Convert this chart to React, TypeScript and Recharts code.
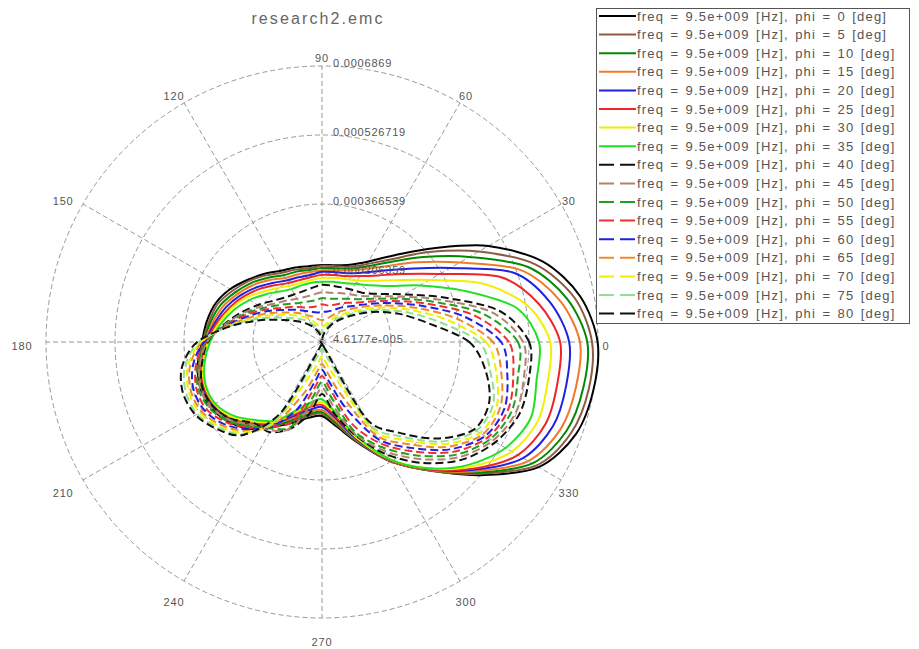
import React from 'react';
import { RadarChart, Radar, PolarGrid, PolarAngleAxis, PolarRadiusAxis } from 'recharts';

// angles (deg) at which each pattern is sampled
const ANGLES = [0, 10, 20, 30, 40, 50, 60, 70, 80, 90, 100, 110, 120, 130, 140, 150, 160, 170, 180, 190, 200, 210, 220, 230, 240, 250, 260, 270, 280, 290, 300, 310, 320, 330, 340, 350];
const PHI = [0, 5, 10, 15, 20, 25, 30, 35, 40, 45, 50, 55, 60, 65, 70, 75, 80];
const FREQ_LABEL = '9.5e+009';

// values in units of 1e-4
const UNIT = 1e-4;
const S0 = [6.86, 6.55, 5.92, 4.92, 3.85, 3.09, 2.62, 2.37, 2.27, 2.25, 2.25, 2.30, 2.37, 2.53, 2.71, 2.92, 3.09, 3.18, 3.25, 3.39, 3.48, 3.46, 3.32, 3.09, 2.74, 2.46, 2.25, 2.18, 2.46, 2.97, 3.67, 4.36, 5.27, 6.27, 6.73, 6.86];
const S1 = [6.73, 6.41, 5.73, 4.66, 3.71, 2.97, 2.55, 2.32, 2.25, 2.23, 2.20, 2.25, 2.32, 2.48, 2.67, 2.85, 3.04, 3.13, 3.23, 3.36, 3.46, 3.43, 3.29, 3.06, 2.71, 2.41, 2.20, 2.13, 2.41, 2.95, 3.67, 4.36, 5.22, 6.20, 6.62, 6.75];
const S2 = [6.62, 6.24, 5.55, 4.41, 3.53, 2.88, 2.48, 2.27, 2.20, 2.18, 2.16, 2.20, 2.25, 2.41, 2.60, 2.78, 2.97, 3.09, 3.20, 3.34, 3.46, 3.43, 3.27, 3.02, 2.69, 2.37, 2.16, 2.09, 2.37, 2.92, 3.64, 4.34, 5.18, 6.10, 6.50, 6.62];
const S3 = [6.45, 6.06, 5.36, 4.15, 3.34, 2.76, 2.41, 2.23, 2.16, 2.13, 2.11, 2.13, 2.18, 2.34, 2.53, 2.71, 2.90, 3.04, 3.18, 3.32, 3.43, 3.41, 3.25, 2.99, 2.67, 2.32, 2.11, 2.04, 2.32, 2.90, 3.64, 4.34, 5.13, 5.99, 6.36, 6.45];
const S4 = [6.20, 5.83, 5.18, 3.90, 3.11, 2.62, 2.32, 2.16, 2.11, 2.09, 2.04, 2.06, 2.11, 2.25, 2.44, 2.64, 2.83, 2.99, 3.16, 3.29, 3.41, 3.39, 3.23, 2.95, 2.64, 2.27, 2.06, 1.97, 2.25, 2.88, 3.62, 4.32, 5.08, 5.85, 6.17, 6.22];
const S5 = [5.99, 5.57, 4.87, 3.62, 2.92, 2.48, 2.23, 2.09, 2.04, 2.02, 1.99, 1.99, 2.04, 2.18, 2.37, 2.57, 2.76, 2.95, 3.13, 3.29, 3.39, 3.36, 3.20, 2.92, 2.62, 2.23, 1.99, 1.92, 2.20, 2.85, 3.62, 4.32, 5.04, 5.71, 5.99, 6.01];
const S6 = [5.76, 5.31, 4.43, 3.34, 2.69, 2.32, 2.11, 2.02, 1.97, 1.95, 1.92, 1.92, 1.97, 2.09, 2.27, 2.51, 2.71, 2.90, 3.11, 3.27, 3.36, 3.34, 3.18, 2.88, 2.60, 2.18, 1.95, 1.86, 2.13, 2.83, 3.60, 4.29, 4.97, 5.55, 5.80, 5.78];
const S7 = [5.50, 5.04, 3.95, 3.09, 2.48, 2.18, 2.02, 1.92, 1.88, 1.86, 1.86, 1.86, 1.88, 1.99, 2.18, 2.41, 2.64, 2.85, 3.06, 3.23, 3.34, 3.32, 3.13, 2.83, 2.57, 2.13, 1.88, 1.79, 2.09, 2.78, 3.60, 4.29, 4.90, 5.38, 5.62, 5.52];
const S8 = [5.27, 4.64, 3.48, 2.67, 2.20, 1.95, 1.86, 1.81, 1.79, 1.79, 1.74, 1.72, 1.74, 1.81, 1.95, 2.18, 2.46, 2.78, 3.11, 3.29, 3.43, 3.41, 3.23, 2.92, 2.88, 2.60, 2.16, 1.67, 2.16, 2.78, 3.48, 4.13, 4.71, 5.11, 5.34, 5.34];
const S9 = [5.13, 4.46, 3.34, 2.57, 2.11, 1.86, 1.74, 1.67, 1.62, 1.62, 1.58, 1.58, 1.62, 1.72, 1.86, 2.11, 2.41, 2.76, 3.13, 3.34, 3.48, 3.46, 3.27, 2.97, 2.83, 2.60, 1.97, 1.53, 1.97, 2.74, 3.39, 4.01, 4.62, 5.04, 5.25, 5.22];
const S10 = [5.01, 4.25, 3.20, 2.48, 2.02, 1.76, 1.62, 1.53, 1.48, 1.48, 1.44, 1.46, 1.51, 1.62, 1.79, 2.04, 2.37, 2.74, 3.16, 3.39, 3.53, 3.50, 3.32, 3.02, 2.78, 2.55, 1.79, 1.39, 1.79, 2.67, 3.29, 3.90, 4.53, 4.97, 5.15, 5.08];
const S11 = [4.80, 4.04, 3.06, 2.37, 1.92, 1.65, 1.51, 1.39, 1.32, 1.34, 1.30, 1.32, 1.39, 1.53, 1.69, 1.97, 2.32, 2.71, 3.18, 3.43, 3.57, 3.57, 3.36, 3.06, 2.74, 2.41, 1.58, 1.25, 1.58, 2.48, 3.18, 3.78, 4.43, 4.90, 5.06, 4.97];
const S12 = [4.62, 3.83, 2.92, 2.27, 1.83, 1.55, 1.39, 1.25, 1.18, 1.16, 1.16, 1.21, 1.30, 1.44, 1.62, 1.90, 2.25, 2.69, 3.20, 3.50, 3.64, 3.62, 3.43, 3.11, 2.69, 2.11, 1.39, 1.11, 1.39, 2.11, 3.06, 3.67, 4.34, 4.83, 4.97, 4.83];
const S13 = [4.43, 3.62, 2.78, 2.16, 1.74, 1.46, 1.27, 1.11, 1.00, 0.97, 1.00, 1.09, 1.18, 1.34, 1.53, 1.81, 2.18, 2.67, 3.25, 3.57, 3.71, 3.69, 3.48, 3.16, 2.64, 1.76, 1.18, 0.97, 1.18, 1.76, 2.95, 3.55, 4.25, 4.76, 4.87, 4.69];
const S14 = [4.27, 3.41, 2.64, 2.06, 1.62, 1.34, 1.16, 0.97, 0.86, 0.83, 0.83, 0.95, 1.09, 1.25, 1.44, 1.72, 2.11, 2.64, 3.27, 3.62, 3.76, 3.74, 3.53, 3.20, 2.57, 1.30, 0.93, 0.79, 0.93, 1.30, 2.81, 3.43, 4.15, 4.69, 4.78, 4.57];
const S15 = [4.11, 3.20, 2.51, 1.95, 1.53, 1.25, 1.04, 0.86, 0.72, 0.67, 0.69, 0.83, 0.97, 1.14, 1.32, 1.60, 2.04, 2.62, 3.32, 3.69, 3.83, 3.81, 3.57, 3.25, 2.48, 0.88, 0.69, 0.62, 0.69, 0.88, 2.67, 3.32, 4.06, 4.59, 4.69, 4.43];
const S16 = [3.88, 2.97, 2.37, 1.86, 1.44, 1.16, 0.95, 0.76, 0.62, 0.53, 0.60, 0.72, 0.86, 1.02, 1.21, 1.48, 1.95, 2.60, 3.36, 3.76, 3.90, 3.85, 3.62, 3.27, 2.32, 0.58, 0.53, 0.51, 0.53, 0.58, 2.51, 3.20, 3.95, 4.53, 4.59, 4.32];

const SERIES_VALUES = [S0, S1, S2, S3, S4, S5, S6, S7, S8, S9, S10, S11, S12, S13, S14, S15, S16];
const COLORS = ['#000000', '#8f5a45', '#008a00', '#f07a2a', '#2020e0', '#f02424', '#f0f000', '#22e022', '#111111', '#b08470', '#20a020', '#f03030', '#2020e0', '#f08a2a', '#f0f000', '#90e090', '#111111'];

const ANGLE_TICKS = [0, 30, 60, 90, 120, 150, 180, 210, 240, 270, 300, 330];
const RMIN = 4.6177e-5;
const RMAX = 6.869e-4;
const RADIUS_TICKS = [4.6177e-5, 2.06359e-4, 3.66539e-4, 5.26719e-4, 6.869e-4];
const RADIUS_LABELS = ['4.6177e-005', '0.000206359', '0.000366539', '0.000526719', '0.0006869'];
const TITLE = 'research2.emc';

// the radial axis starts at RMIN (the centre of the plot), so values are measured from it
const table = ANGLES.map((a, i) => {
  const row: Record<string, number> = { angle: a };
  SERIES_VALUES.forEach((s, k) => {
    row['s' + k] = s[i] * UNIT - RMIN;
  });
  return row;
});
const RADIUS_TICKS_SHIFTED = RADIUS_TICKS.map((t) => t - RMIN);

const FONT = '"Liberation Sans", Arial, sans-serif';
const TEXT = '#555555';

function smoothPath(pts: { x: number; y: number }[]) {
  const n = pts.length;
  const t = 0.15;
  let d = `M${pts[0].x},${pts[0].y}`;
  for (let i = 0; i < n; i++) {
    const p0 = pts[(i - 1 + n) % n];
    const p1 = pts[i];
    const p2 = pts[(i + 1) % n];
    const p3 = pts[(i + 2) % n];
    const c1x = p1.x + (p2.x - p0.x) * t;
    const c1y = p1.y + (p2.y - p0.y) * t;
    const c2x = p2.x - (p3.x - p1.x) * t;
    const c2y = p2.y - (p3.y - p1.y) * t;
    d += ` C${c1x},${c1y} ${c2x},${c2y} ${p2.x},${p2.y}`;
  }
  return d + 'Z';
}

function SmoothShape({ points, color, dash }: any) {
  if (!points || points.length < 3) return null;
  return (
    <path d={smoothPath(points)} fill="none" stroke={color} strokeWidth={2} strokeDasharray={dash} />
  );
}

const AngleTick = (props: any) => {
  const { x, y, payload } = props;
  const a = (payload.value * Math.PI) / 180;
  const c = Math.cos(a);
  const s = Math.sin(a);
  const X = x + 8 * c - 8 * c * c;
  const Y = y - 8 * s + 4 + 3.5 * s * s;
  return (
    <text x={X} y={Y} textAnchor="middle" dominantBaseline="central" fontSize={11} fill={TEXT} fontFamily={FONT} letterSpacing={0.8}>
      {payload.value}
    </text>
  );
};

const RadiusTick = (props: any) => {
  const { x, y, payload } = props;
  let idx = RADIUS_TICKS_SHIFTED.findIndex((v) => Math.abs(v - payload.value) < 1e-9);
  if (idx < 0) idx = props.index;
  return (
    <text x={x + 11} y={y + 1} fontSize={11} fill={TEXT} fontFamily={FONT} letterSpacing={0.8}>
      {RADIUS_LABELS[idx]}
    </text>
  );
};

export default function App() {
  const rowH = 18.6;
  return (
    <div style={{ position: 'relative', width: 903, height: 641, fontFamily: FONT }}>
      <RadarChart
        width={903}
        height={641}
        data={table}
        cx={314}
        cy={334}
        innerRadius={0}
        outerRadius={276}
        startAngle={0}
        endAngle={360}
        margin={{ top: 0, right: 0, bottom: 0, left: 0 }}
      >
        <PolarGrid gridType="circle" stroke="#999" strokeDasharray="5 3" polarAngles={ANGLE_TICKS} />
        <PolarAngleAxis
          dataKey="angle"
          type="number"
          domain={[0, 360]}
          ticks={ANGLE_TICKS}
          tick={AngleTick}
          tickLine={false}
          axisLine={false}
          tickSize={8}
        />
        <PolarRadiusAxis
          angle={90}
          type="number"
          domain={[0, RMAX - RMIN]}
          ticks={RADIUS_TICKS_SHIFTED}
          tick={RadiusTick}
          axisLine={false}
          tickLine={false}
          allowDataOverflow
        />
        {SERIES_VALUES.map((_, k) => (
          <Radar
            key={k}
            dataKey={'s' + k}
            stroke={COLORS[k]}
            fill="none"
            fillOpacity={0}
            strokeWidth={2}
            dot={false}
            isAnimationActive={false}
            shape={(p: any) => (
              <SmoothShape points={p.points} color={COLORS[k]} dash={PHI[k] >= 40 ? '8 4' : undefined} />
            )}
          />
        ))}
      </RadarChart>
      <div
        style={{
          position: 'absolute',
          left: 0,
          width: 620,
          top: 2,
          textAlign: 'center',
          fontSize: 16,
          letterSpacing: 2.1,
          color: '#666',
          fontFamily: FONT,
        }}
      >
        {TITLE}
      </div>
      <svg style={{ position: 'absolute', left: 588, top: 0 }} width={315} height={317}>
        <rect x={0.5} y={0.5} width={313} height={315} fill="#ffffff" stroke="#555" strokeWidth={1} />
        {PHI.map((phi, i) => {
          const cy = 8 + i * rowH;
          return (
            <g key={phi}>
              <line x1={3} x2={40} y1={cy} y2={cy} stroke={COLORS[i]} strokeWidth={2} strokeDasharray={phi >= 40 ? '15 6' : undefined} />
              <text x={41} y={cy + 4.5} fontSize={13} fill={TEXT} fontFamily={FONT} letterSpacing={1.2} wordSpacing={1.5}>
                {`freq = ${FREQ_LABEL} [Hz], phi = ${phi} [deg]`}
              </text>
            </g>
          );
        })}
      </svg>
    </div>
  );
}
